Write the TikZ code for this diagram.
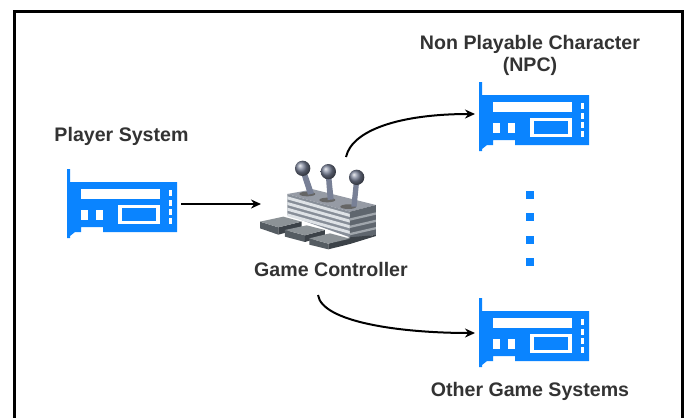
\documentclass[tikz,border=0pt]{standalone}
\usepackage{fontspec}
\setmainfont{Liberation Sans}
\usetikzlibrary{arrows.meta}
\definecolor{cardblue}{RGB}{10,132,255}
\definecolor{stickcol}{RGB}{120,128,150}
\definecolor{topcol}{RGB}{150,155,165}
\definecolor{padtopcol}{RGB}{140,146,150}
\definecolor{padsidecol}{RGB}{85,92,98}
\definecolor{padsidedark}{RGB}{60,66,72}
\definecolor{frontcol}{RGB}{135,142,152}
\definecolor{stripecol}{RGB}{222,226,230}
\definecolor{rightcol}{RGB}{95,102,110}
\definecolor{rightstripe}{RGB}{160,166,172}
\tikzset{
  lbl/.style={font=\bfseries\fontsize{19.6}{22}\selectfont, text=black!80, align=center, inner sep=0pt},
  conn/.style={draw=black, line width=2pt, -{Stealth[length=10pt,width=9pt]}},
  cardhole/.style={fill=white, draw=none},
  dotmark/.style={fill=cardblue, draw=none, minimum size=8pt, inner sep=0pt},
  pics/card/.style={code={
    \fill[cardblue] (0,0) -- (3,0) -- (3,13) -- (110,13) -- (110,63) -- (36,63) -- (36,58) -- (14,58) -- (14,63) -- (8,63) -- (3,67) -- (3,69) -- (0,69) -- cycle;
    \fill[cardhole] (14,20) rectangle (93,30);
    \fill[cardhole] (14,41) rectangle (21,51);
    \fill[cardhole] (29,41) rectangle (36,51);
    \fill[cardhole] (51,36) rectangle (93,55);
    \fill[cardblue] (55,39) rectangle (89,52);
    \foreach \yy in {21,30.5,39.5,49} \fill[cardhole] (102,\yy) rectangle (105,\yy+6);
  }},
}
\begin{document}
\begin{tikzpicture}[x=1pt,y=-1pt]
\useasboundingbox (0,0) rectangle (686,418);
\fill[white] (0,0) rectangle (686,418);
\fill[black] (13,10) rectangle (684,13);
\fill[black] (13,10) rectangle (16,418);
\fill[black] (681,10) rectangle (684,418);

\pic at (67,169) {card};
\pic at (479,82) {card};
\pic at (479,298) {card};
\coordinate (playerout) at (181,204);
\coordinate (padin) at (261,204);
\coordinate (padtop) at (346,157);
\coordinate (padbot) at (318,295);
\coordinate (npcin) at (475,114);
\coordinate (otherin) at (475,333);

% game controller
\begin{scope}[shift={(250,150)},x=0.3333pt,y=-0.3333pt]
  % feet
  \fill[padsidecol] (30,215) -- (85,232) -- (85,254) -- (30,235) -- cycle;
  \fill[padsidedark] (85,232) -- (155,215) -- (155,235) -- (85,254) -- cycle;
  \fill[padtopcol] (30,215) -- (100,200) -- (155,215) -- (85,232) -- cycle;
  \fill[padsidecol] (105,240) -- (165,256) -- (165,276) -- (105,260) -- cycle;
  \fill[padsidedark] (165,256) -- (225,240) -- (225,258) -- (165,276) -- cycle;
  \fill[padtopcol] (105,240) -- (170,226) -- (225,240) -- (165,256) -- cycle;
  % body
  \fill[topcol] (112,132) -- (190,118) -- (378,165) -- (300,185) -- cycle;
  \fill[frontcol] (112,132) -- (300,185) -- (300,262) -- (112,195) -- cycle;
  \foreach \d in {0,17,34,51}
    \fill[stripecol] (112,139+\d) -- (300,192+\d) -- (300,201+\d) -- (112,148+\d) -- cycle;
  \fill[rightcol] (300,185) -- (378,165) -- (378,255) -- (300,265) -- cycle;
  \foreach \d in {0,22,44}
    \fill[rightstripe] (300,205+\d) -- (378,187+\d) -- (378,194+\d) -- (300,212+\d) -- cycle;
  \fill[padsidecol] (178,265) -- (235,281) -- (235,298) -- (178,284) -- cycle;
  \fill[padsidedark] (235,281) -- (300,262) -- (378,255) -- (378,258) -- (300,282) -- (235,298) -- cycle;
  \fill[padtopcol] (178,265) -- (240,250) -- (300,266) -- (235,281) -- cycle;
  % sockets
  \fill[black!60] (172,132) ellipse (24 and 7);
  \fill[black!60] (232,150) ellipse (24 and 7);
  \fill[black!60] (295,170) ellipse (24 and 7);
  % sticks
  \fill[stickcol] (150,60) -- (166,55) -- (192,130) -- (174,134) -- cycle;
  \fill[stickcol] (227,70) -- (243,70) -- (251,148) -- (233,150) -- cycle;
  \fill[stickcol] (312,90) -- (328,90) -- (320,170) -- (304,170) -- cycle;
  % knobs
  \foreach \kx/\ky in {158/55,235/65,320/82}
    \shade[ball color=stickcol] (\kx,\ky) circle (23);
\end{scope}

\node[dotmark] (d1) at (530,195) {};
\node[dotmark] (d2) at (530,217) {};
\node[dotmark] (d3) at (530,240) {};
\node[dotmark] (d4) at (530,262) {};

\node[lbl] (playerlabel) at (121.5,136) {Player System};
\node[lbl] (padlabel) at (331,269.5) {Game Controller};
\node[lbl] (npclabel) at (530,55.5) {Non Playable Character\\(NPC)};
\node[lbl] (otherlabel) at (530,391) {Other Game Systems};

\draw[conn] (playerout) -- (padin);
\draw[conn] (padtop) .. controls (352,130) and (400,114) .. (npcin);
\draw[conn] (padbot) .. controls (322,322) and (400,333) .. (otherin);
\end{tikzpicture}
\end{document}
